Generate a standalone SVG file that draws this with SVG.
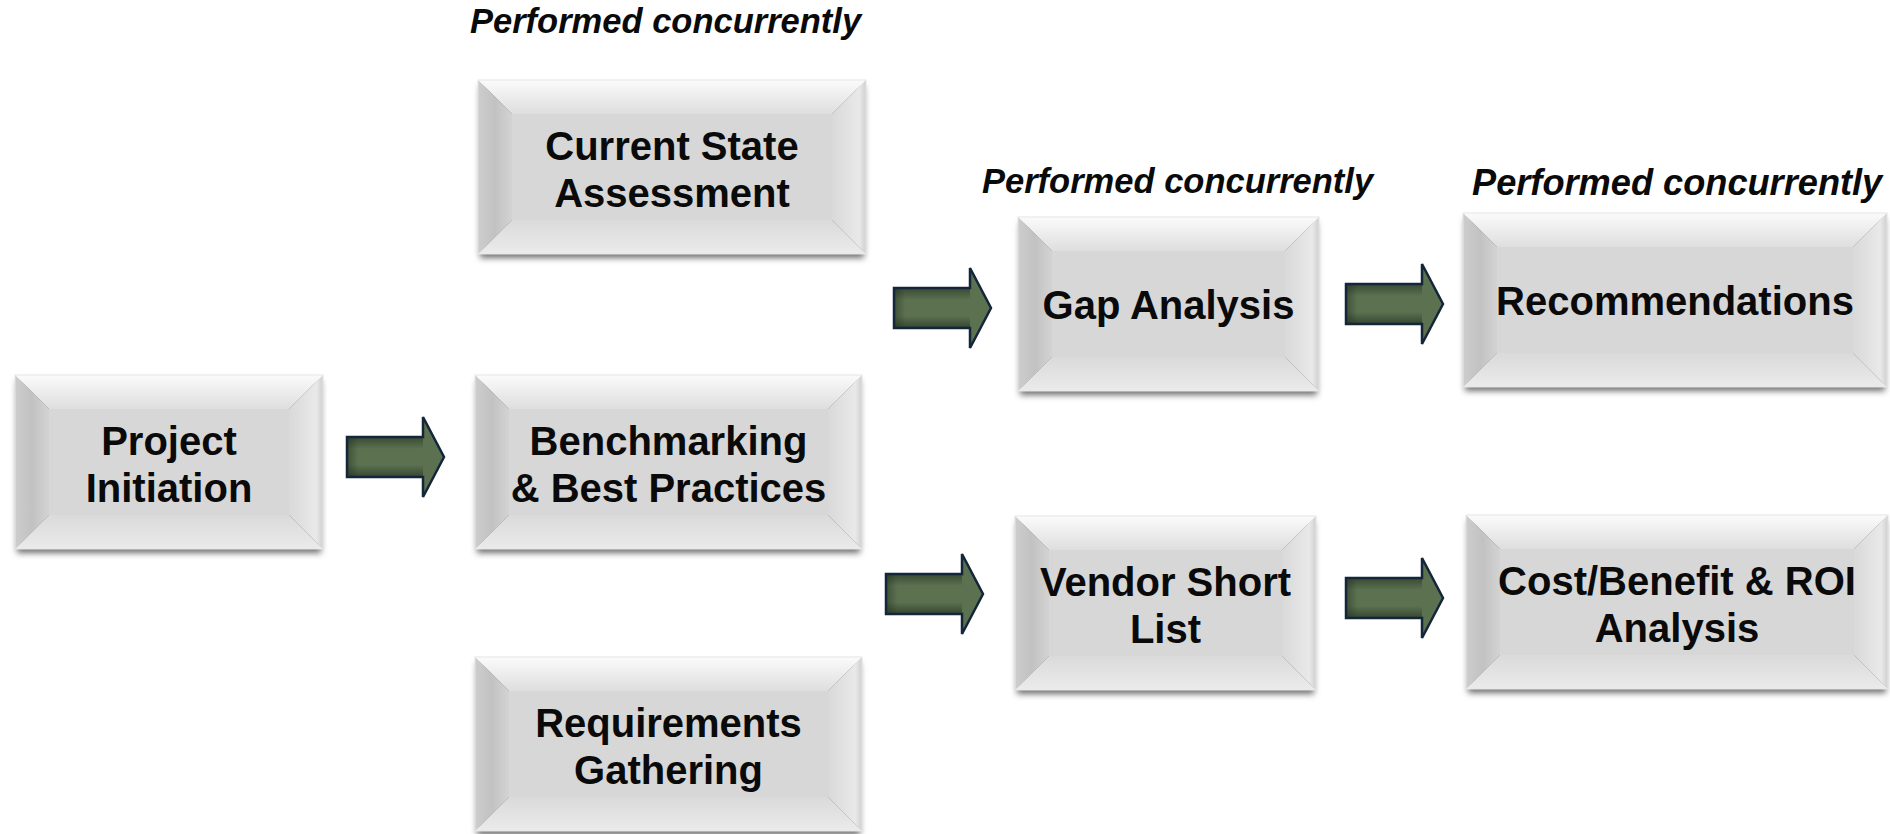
<svg xmlns="http://www.w3.org/2000/svg" xmlns:xlink="http://www.w3.org/1999/xlink" width="1890" height="834" viewBox="0 0 1890 834">
<style>
.lbl{font-family:"Liberation Sans",Arial,sans-serif;font-weight:bold;font-size:40px;fill:#0a0a0a;text-anchor:middle}
.note{font-family:"Liberation Sans",Arial,sans-serif;font-weight:bold;font-style:italic;font-size:34.5px;fill:#0a0a0a}
.top{fill:url(#gTop)}
.left{fill:url(#gLeft)}
.right{fill:url(#gRight)}
.bot{fill:url(#gBot)}
.face{fill:#d7d7d7}
.shadow{fill:#6e6e6e;filter:url(#blur)}
.edge{fill:none;stroke:#e6e6e6;stroke-width:1}
.arrowBody{fill:#5b7150}
.arrowShade{fill:url(#gShaft)}
.arrowLeft{fill:url(#gShaftL)}
.arrowLine{fill:none;stroke:#13263a;stroke-width:2.5;stroke-linejoin:miter}
</style>
<defs>
<filter id="blur" x="-10%" y="-20%" width="120%" height="140%"><feGaussianBlur stdDeviation="3"/></filter>
<linearGradient id="gTop" x1="0" y1="0" x2="0" y2="1"><stop offset="0" stop-color="#fbfbfb"/><stop offset="1" stop-color="#dedede"/></linearGradient>
<linearGradient id="gLeft" x1="0" y1="0" x2="1" y2="0"><stop offset="0" stop-color="#cdcdcd"/><stop offset="0.5" stop-color="#c2c2c2"/><stop offset="1" stop-color="#d3d3d3"/></linearGradient>
<linearGradient id="gRight" x1="0" y1="0" x2="1" y2="0"><stop offset="0" stop-color="#d9d9d9"/><stop offset="0.8" stop-color="#e9e9e9"/><stop offset="1" stop-color="#cfcfcf"/></linearGradient>
<linearGradient id="gBot" x1="0" y1="0" x2="0" y2="1"><stop offset="0" stop-color="#dadada"/><stop offset="1" stop-color="#ebebeb"/></linearGradient>
<linearGradient id="gShaft" x1="0" y1="0" x2="0" y2="1"><stop offset="0" stop-color="#1e2a1c" stop-opacity="0.55"/><stop offset="0.3" stop-color="#1e2a1c" stop-opacity="0"/><stop offset="0.7" stop-color="#1e2a1c" stop-opacity="0"/><stop offset="1" stop-color="#1e2a1c" stop-opacity="0.6"/></linearGradient>
<linearGradient id="gShaftL" x1="0" y1="0" x2="1" y2="0"><stop offset="0" stop-color="#1e2a1c" stop-opacity="0.45"/><stop offset="0.15" stop-color="#1e2a1c" stop-opacity="0"/></linearGradient>
<g id="arr">
<path class="arrowBody" d="M0,-20 H76 V-40 L97,0 L76,40 V20 H0 Z"/>
<rect class="arrowShade" x="0" y="-20" width="76" height="40"/>
<rect class="arrowLeft" x="0" y="-20" width="76" height="40"/>
<path class="arrowLine" d="M0,-20 H76 V-40 L97,0 L76,40 V20 H0 Z"/>
</g>
</defs>
<rect width="1890" height="834" fill="#ffffff"/>

<text class="note" x="470" y="33">Performed concurrently</text>
<text class="note" x="982" y="193">Performed concurrently</text>
<text class="note" x="1472" y="195" style="font-size:36.2px">Performed concurrently</text>

<g id="connectors">
<use xlink:href="#arr" href="#arr" transform="translate(347,457)"/>
<use xlink:href="#arr" href="#arr" transform="translate(894,308)"/>
<use xlink:href="#arr" href="#arr" transform="translate(1346,304)"/>
<use xlink:href="#arr" href="#arr" transform="translate(886,594)"/>
<use xlink:href="#arr" href="#arr" transform="translate(1346,598)"/>
</g>

<g id="project-initiation">
<rect class="shadow" x="17" y="381" width="304" height="172"/>
<polygon class="top" points="15,375 323,375 289,409 49,409"/>
<polygon class="left" points="15,375 49,409 49,515 15,549"/>
<polygon class="right" points="323,375 323,549 289,515 289,409"/>
<polygon class="bot" points="15,549 49,515 289,515 323,549"/>
<rect class="face" x="49" y="409" width="240" height="106"/>
<rect class="edge" x="15" y="375" width="308" height="174"/>
<text class="lbl" x="169" y="455">Project</text>
<text class="lbl" x="169" y="502">Initiation</text>
</g>

<g id="current-state">
<rect class="shadow" x="480" y="86" width="384" height="172"/>
<polygon class="top" points="478,80 866,80 832,114 512,114"/>
<polygon class="left" points="478,80 512,114 512,220 478,254"/>
<polygon class="right" points="866,80 866,254 832,220 832,114"/>
<polygon class="bot" points="478,254 512,220 832,220 866,254"/>
<rect class="face" x="512" y="114" width="320" height="106"/>
<rect class="edge" x="478" y="80" width="388" height="174"/>
<text class="lbl" x="672" y="160">Current State</text>
<text class="lbl" x="672" y="207">Assessment</text>
</g>

<g id="benchmarking">
<rect class="shadow" x="477" y="381" width="383" height="172"/>
<polygon class="top" points="475,375 862,375 828,409 509,409"/>
<polygon class="left" points="475,375 509,409 509,515 475,549"/>
<polygon class="right" points="862,375 862,549 828,515 828,409"/>
<polygon class="bot" points="475,549 509,515 828,515 862,549"/>
<rect class="face" x="509" y="409" width="319" height="106"/>
<rect class="edge" x="475" y="375" width="387" height="174"/>
<text class="lbl" x="668.5" y="455">Benchmarking</text>
<text class="lbl" x="668.5" y="502">&amp; Best Practices</text>
</g>

<g id="requirements">
<rect class="shadow" x="477" y="663" width="383" height="172"/>
<polygon class="top" points="475,657 862,657 828,691 509,691"/>
<polygon class="left" points="475,657 509,691 509,797 475,831"/>
<polygon class="right" points="862,657 862,831 828,797 828,691"/>
<polygon class="bot" points="475,831 509,797 828,797 862,831"/>
<rect class="face" x="509" y="691" width="319" height="106"/>
<rect class="edge" x="475" y="657" width="387" height="174"/>
<text class="lbl" x="668.5" y="737">Requirements</text>
<text class="lbl" x="668.5" y="784">Gathering</text>
</g>

<g id="gap-analysis">
<rect class="shadow" x="1020" y="223" width="297" height="172"/>
<polygon class="top" points="1018,217 1319,217 1285,251 1052,251"/>
<polygon class="left" points="1018,217 1052,251 1052,357 1018,391"/>
<polygon class="right" points="1319,217 1319,391 1285,357 1285,251"/>
<polygon class="bot" points="1018,391 1052,357 1285,357 1319,391"/>
<rect class="face" x="1052" y="251" width="233" height="106"/>
<rect class="edge" x="1018" y="217" width="301" height="174"/>
<text class="lbl" x="1168.5" y="319">Gap Analysis</text>
</g>

<g id="recommendations">
<rect class="shadow" x="1465" y="219" width="420" height="172"/>
<polygon class="top" points="1463,213 1887,213 1853,247 1497,247"/>
<polygon class="left" points="1463,213 1497,247 1497,353 1463,387"/>
<polygon class="right" points="1887,213 1887,387 1853,353 1853,247"/>
<polygon class="bot" points="1463,387 1497,353 1853,353 1887,387"/>
<rect class="face" x="1497" y="247" width="356" height="106"/>
<rect class="edge" x="1463" y="213" width="424" height="174"/>
<text class="lbl" x="1675" y="315">Recommendations</text>
</g>

<g id="vendor-short-list">
<rect class="shadow" x="1017" y="522" width="297" height="172"/>
<polygon class="top" points="1015,516 1316,516 1282,550 1049,550"/>
<polygon class="left" points="1015,516 1049,550 1049,656 1015,690"/>
<polygon class="right" points="1316,516 1316,690 1282,656 1282,550"/>
<polygon class="bot" points="1015,690 1049,656 1282,656 1316,690"/>
<rect class="face" x="1049" y="550" width="233" height="106"/>
<rect class="edge" x="1015" y="516" width="301" height="174"/>
<text class="lbl" x="1165.5" y="596">Vendor Short</text>
<text class="lbl" x="1165.5" y="643">List</text>
</g>

<g id="cost-benefit">
<rect class="shadow" x="1468" y="521" width="418" height="172"/>
<polygon class="top" points="1466,515 1888,515 1854,549 1500,549"/>
<polygon class="left" points="1466,515 1500,549 1500,655 1466,689"/>
<polygon class="right" points="1888,515 1888,689 1854,655 1854,549"/>
<polygon class="bot" points="1466,689 1500,655 1854,655 1888,689"/>
<rect class="face" x="1500" y="549" width="354" height="106"/>
<rect class="edge" x="1466" y="515" width="422" height="174"/>
<text class="lbl" x="1677" y="595">Cost/Benefit &amp; ROI</text>
<text class="lbl" x="1677" y="642">Analysis</text>
</g>
</svg>
